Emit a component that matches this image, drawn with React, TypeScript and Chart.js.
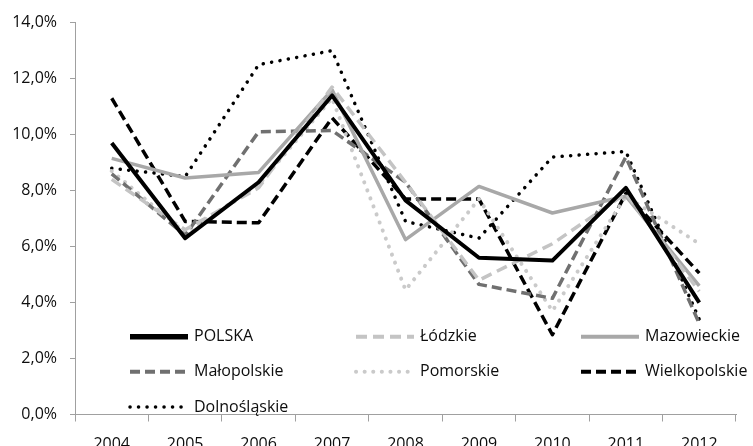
import React, { useEffect, useRef } from "react";
import { Chart, registerables } from "chart.js";

Chart.register(...registerables);

const years = ["2004", "2005", "2006", "2007", "2008", "2009", "2010", "2011", "2012"];

const polska = [9.7, 6.3, 8.3, 11.4, 7.65, 5.6, 5.5, 8.1, 4.0];
const lodzkie = [8.4, 6.6, 8.1, 11.7, 8.3, 4.8, 6.1, 7.9, 4.4];
const mazowieckie = [9.15, 8.45, 8.65, 11.6, 6.25, 8.15, 7.2, 7.8, 4.6];
const malopolskie = [8.6, 6.4, 10.1, 10.15, 8.3, 4.65, 4.15, 9.2, 3.25];
const pomorskie = [8.7, 6.5, 8.2, 11.3, 4.45, 7.7, 3.7, 7.8, 6.1];
const wielkopolskie = [11.3, 6.9, 6.85, 10.6, 7.7, 7.7, 2.85, 7.9, 5.05];
const dolnoslaskie = [8.8, 8.5, 12.5, 13.0, 6.9, 6.3, 9.2, 9.4, 3.4];

const yTickLabels = ["0,0%", "2,0%", "4,0%", "6,0%", "8,0%", "10,0%", "12,0%", "14,0%"];

const FONT = "'Open Sans'";
const AXIS_COLOR = "#a0a0a0";
const TEXT_COLOR = "#0d0d0d";

const legendPlugin = {
  id: "gridLegend",
  afterDraw(chart: any) {
    const { ctx, chartArea } = chart;
    const cols = [55, 281, 506];
    const rows = [-77.7, -42.7, -7.5];
    chart.data.datasets.forEach((ds: any, i: number) => {
      const x = chartArea.left + cols[i % 3];
      const y = chartArea.bottom + rows[Math.floor(i / 3)];
      ctx.save();
      ctx.strokeStyle = ds.borderColor;
      ctx.lineWidth = ds.legendWidth ?? ds.borderWidth;
      ctx.setLineDash(ds.borderDash || []);
      ctx.lineCap = ds.borderCapStyle || "butt";
      ctx.beginPath();
      ctx.moveTo(x, y);
      ctx.lineTo(x + 58, y);
      ctx.stroke();
      ctx.setLineDash([]);
      ctx.fillStyle = TEXT_COLOR;
      ctx.font = `16px ${FONT}`;
      ctx.textBaseline = "middle";
      ctx.textAlign = "left";
      ctx.fillText(ds.label, x + 64, y);
      ctx.restore();
    });
  },
};

export default function App() {
  const ref = useRef<HTMLCanvasElement | null>(null);

  useEffect(() => {
    if (!ref.current) return;
    const common = {
      fill: false,
      tension: 0,
      pointRadius: 0,
      pointHoverRadius: 0,
      borderJoinStyle: "round" as const,
    };
    const chart = new Chart(ref.current, {
      type: "line",
      data: {
        labels: years,
        datasets: [
          { ...common, label: "POLSKA", data: polska, borderColor: "#000000", borderWidth: 4, legendWidth: 5.5 } as any,
          { ...common, label: "Łódzkie", data: lodzkie, borderColor: "#c4c4c4", borderWidth: 3.5, borderDash: [11, 6], legendWidth: 4 } as any,
          { ...common, label: "Mazowieckie", data: mazowieckie, borderColor: "#a8a8a8", borderWidth: 3.5, legendWidth: 4 } as any,
          { ...common, label: "Małopolskie", data: malopolskie, borderColor: "#707070", borderWidth: 3.5, borderDash: [10, 5], legendWidth: 4 } as any,
          { ...common, label: "Pomorskie", data: pomorskie, borderColor: "#cacaca", borderWidth: 4, borderDash: [0.1, 8.5], borderCapStyle: "round", legendWidth: 4 } as any,
          { ...common, label: "Wielkopolskie", data: wielkopolskie, borderColor: "#000000", borderWidth: 3.5, borderDash: [10, 5], legendWidth: 4 } as any,
          { ...common, label: "Dolnośląskie", data: dolnoslaskie, borderColor: "#000000", borderWidth: 3.5, borderDash: [0.1, 8.4], borderCapStyle: "round", legendWidth: 3.5 } as any,
        ],
      },
      options: {
        responsive: false,
        animation: false,
        events: [],
        layout: { padding: { top: 22.7, right: 17, bottom: 0, left: 0 } },
        plugins: {
          legend: { display: false },
          tooltip: { enabled: false },
          title: { display: false },
        },
        scales: {
          x: {
            type: "category",
            offset: true,
            grid: {
              offset: true,
              drawOnChartArea: false,
              drawTicks: true,
              tickLength: 7,
              color: AXIS_COLOR,
            },
            border: { display: true, color: AXIS_COLOR, width: 1 },
            ticks: {
              color: TEXT_COLOR,
              font: { family: FONT, size: 16 },
              padding: 13,
              maxRotation: 0,
              autoSkip: false,
            },
            afterFit: (s: any) => {
              s.height = 31.5;
            },
          },
          y: {
            min: 0,
            max: 14,
            grid: {
              drawOnChartArea: false,
              drawTicks: true,
              tickLength: 5,
              color: AXIS_COLOR,
            },
            border: { display: true, color: AXIS_COLOR, width: 1 },
            ticks: {
              stepSize: 2,
              color: TEXT_COLOR,
              font: { family: FONT, size: 16 },
              padding: 13,
              callback: (_v: any, i: number) => yTickLabels[i],
            },
            afterFit: (s: any) => {
              s.width = 75;
            },
          },
        },
      },
      plugins: [legendPlugin],
    });
    return () => chart.destroy();
  }, []);

  return (
    <div style={{ position: "absolute", left: 0, top: 0, width: 753, height: 446, background: "#ffffff" }}>
      <canvas ref={ref} width={753} height={446} />
    </div>
  );
}
